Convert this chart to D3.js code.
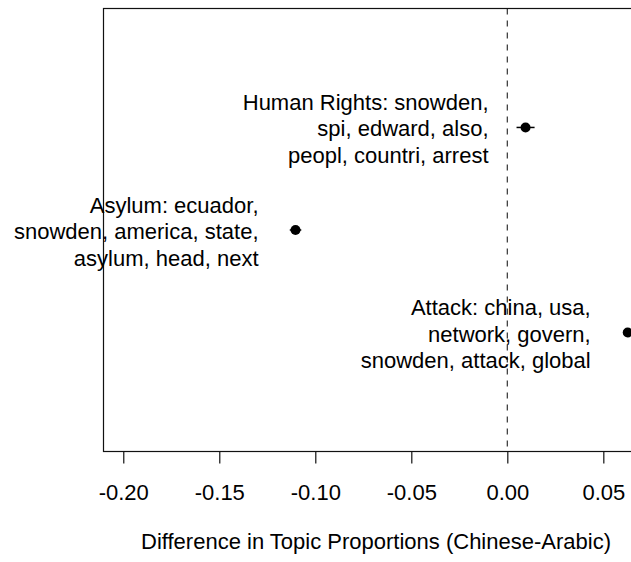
<!DOCTYPE html>
<html>
<head>
<meta charset="utf-8">
<script src="https://cdn.jsdelivr.net/npm/d3@7"></script>
<style>
  html, body { margin: 0; padding: 0; background: #fff; }
  svg { display: block; }
  text { font-family: "Liberation Sans", Arial, Helvetica, sans-serif; fill: #000; }
</style>
</head>
<body>
<svg id="chart" width="631" height="562"></svg>
<script>
// ---- data ----
const topicLabels = [
  ["Human Rights: snowden,", "spi, edward, also,", "peopl, countri, arrest"],
  ["Asylum: ecuador,", "snowden, america, state,", "asylum, head, next"],
  ["Attack: china, usa,", "network, govern,", "snowden, attack, global"]
];
const positions = [3, 2, 1];
const estimates = [0.0095, -0.1103, 0.0627];
const lowerCI = [0.0048, -0.1133, 0.0605];
const upperCI = [0.0142, -0.1073, 0.0649];
const xTicks = [-0.20, -0.15, -0.10, -0.05, 0.00, 0.05];
const xTickLabels = ["-0.20", "-0.15", "-0.10", "-0.05", "0.00", "0.05"];
const xTitle = "Difference in Topic Proportions (Chinese-Arabic)";

// ---- layout ----
const svg = d3.select("#chart");
const pLeft = 103.5, pTop = 8.5, pBottom = 451.5, pRight = 637.5;
const x = d3.scaleLinear().domain([-0.2103, 0.0678]).range([pLeft, pRight]);
const y = d3.scaleLinear().domain([-0.16, 4.16]).range([pBottom, pTop]);
const fontSize = 22;
const lineH = 26.5;

// zero reference line
svg.append("line")
  .attr("x1", x(0)).attr("x2", x(0))
  .attr("y1", pTop).attr("y2", pBottom)
  .attr("stroke", "#333").attr("stroke-width", 1.2)
  .attr("stroke-dasharray", "6,6");

// plot box
svg.append("rect")
  .attr("x", pLeft).attr("y", pTop)
  .attr("width", pRight - pLeft).attr("height", pBottom - pTop)
  .attr("fill", "none").attr("stroke", "#111").attr("stroke-width", 1.2);

// x axis
const axis = d3.axisBottom(x)
  .tickValues(xTicks)
  .tickFormat((d, i) => xTickLabels[i])
  .tickSize(12)
  .tickPadding(0);
const gAxis = svg.append("g").attr("transform", `translate(0,${pBottom})`).call(axis);
gAxis.select(".domain").remove();
gAxis.selectAll(".tick line").attr("stroke", "#111").attr("stroke-width", 1.2);
gAxis.selectAll(".tick text")
  .attr("font-size", fontSize)
  .attr("font-family", "Liberation Sans, Arial, sans-serif")
  .attr("fill", "#000")
  .attr("dy", null)
  .attr("y", 48);

// x title
svg.append("text")
  .attr("x", 376)
  .attr("y", 549)
  .attr("text-anchor", "middle")
  .attr("font-size", fontSize)
  .text(xTitle);

// points, CIs, labels
const g = svg.append("g");
positions.forEach((p, i) => {
  const cy = y(p);
  g.append("line")
    .attr("x1", x(lowerCI[i])).attr("x2", x(upperCI[i]))
    .attr("y1", cy).attr("y2", cy)
    .attr("stroke", "#000").attr("stroke-width", 1.5);
  g.append("circle")
    .attr("cx", x(estimates[i])).attr("cy", cy).attr("r", 5)
    .attr("fill", "#000");
  const t = g.append("text")
    .attr("text-anchor", "end")
    .attr("font-size", fontSize);
  topicLabels[i].forEach((line, k) => {
    t.append("tspan")
      .attr("x", x(estimates[i]) - 37)
      .attr("y", cy + 9 + (k - 1) * lineH)
      .text(line);
  });
});
</script>
</body>
</html>
